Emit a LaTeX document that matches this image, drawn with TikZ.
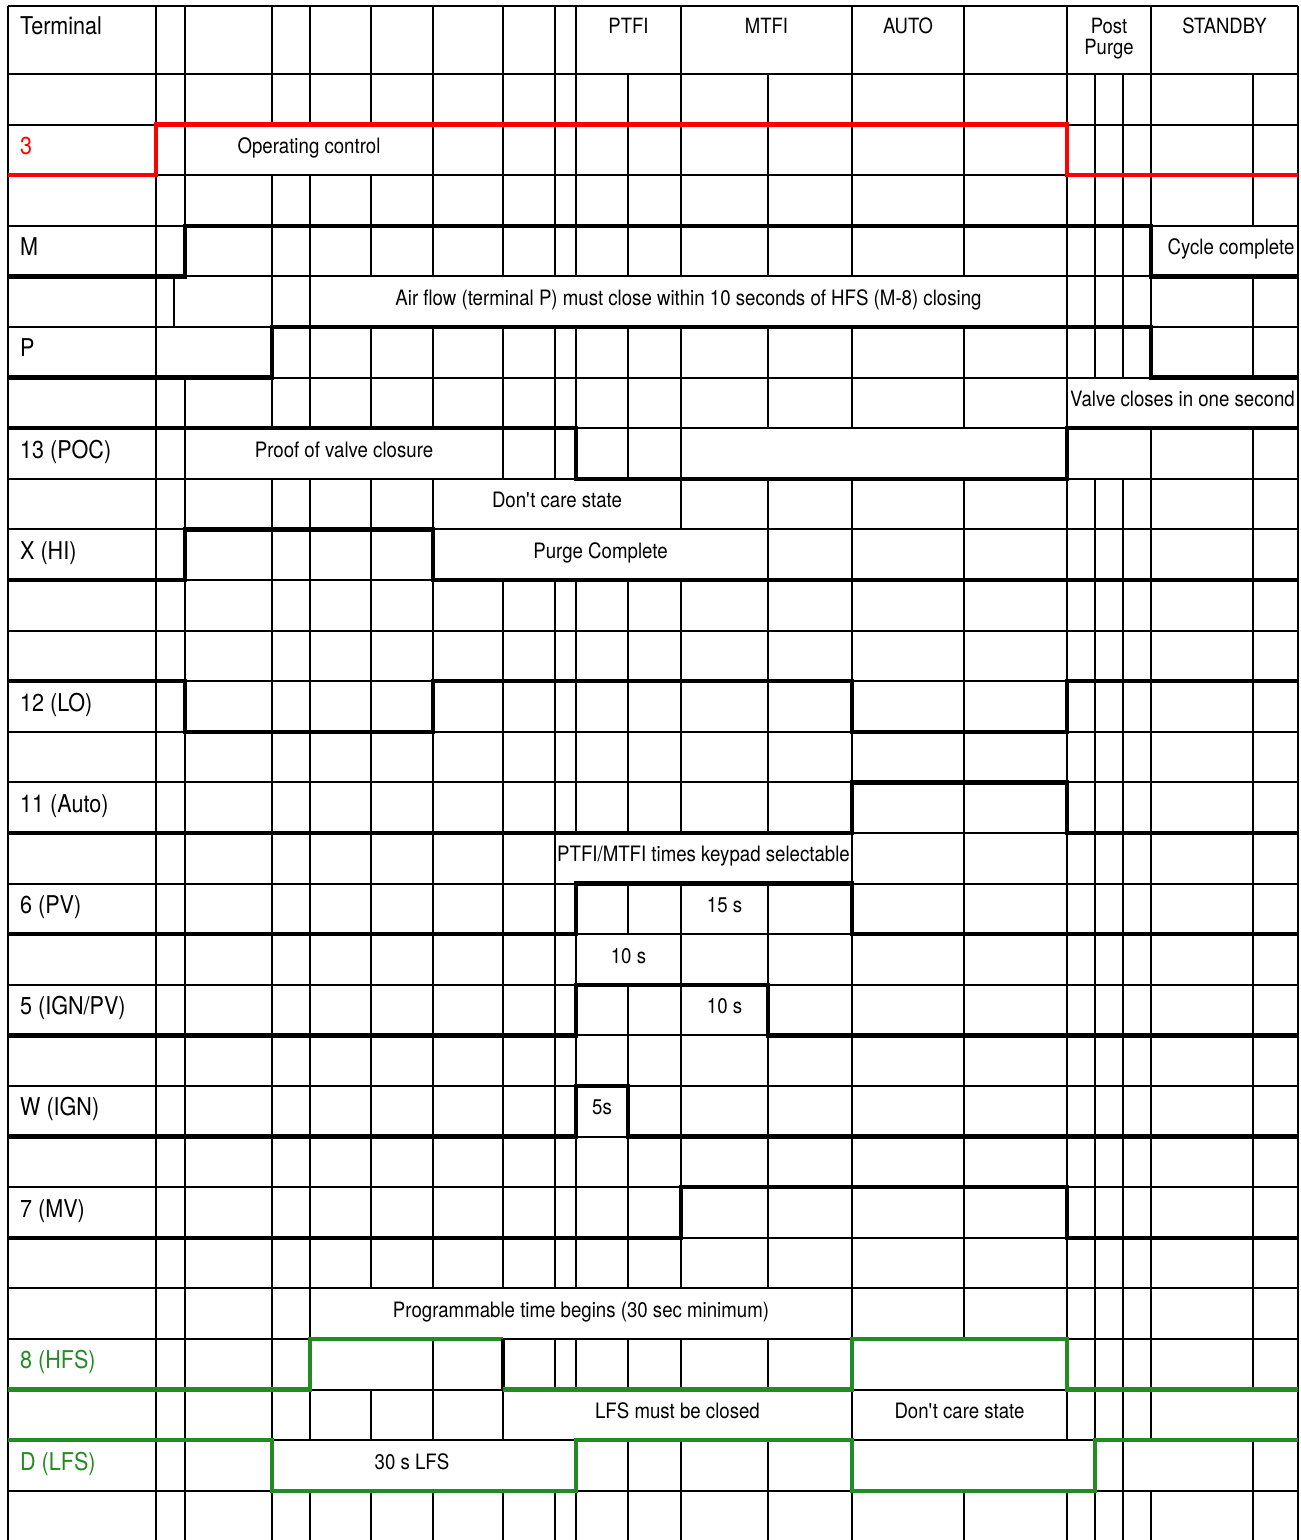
\documentclass[tikz,border=0pt]{standalone}
\usepackage{fontspec}
\setmainfont[FakeStretch=0.88]{TeX Gyre Heros}
\usepackage{xcolor}
\definecolor{lfsgreen}{RGB}{34,139,34}

% vertical grid lines of one row (row k runs from 74+(k-1)*50.6 to 74+k*50.6)
\newcommand{\rowlines}[2]{%
  \foreach \x in {#2} {\draw[gridline] (\x,{74+(#1-1)*50.6}) -- (\x,{74+#1*50.6});}}

\begin{document}
\begin{tikzpicture}[x=1pt, y=-1pt,
    gridline/.style={line width=2pt, black},
    sig/.style={line width=4.5pt, black},
    txt/.style={anchor=base, inner sep=0pt, font=\fontsize{21.2}{21.2}\selectfont},
    headlbl/.style={txt, font=\fontsize{21}{21}\selectfont},
    termlbl/.style={txt, anchor=base west, font=\fontsize{24.5}{24.5}\selectfont}]
    \useasboundingbox (0,0) rectangle (1301,1540);

    % Outer frame and horizontal lines
    \draw[gridline] (8,6) -- (1298,6);
    \draw[gridline] (8,6) -- (8,1540);
    \draw[gridline] (1298,6) -- (1298,1540);
    \foreach \k in {0,...,28}
        \draw[gridline] (8,{74+\k*50.6}) -- (1298,{74+\k*50.6});

    % Header columns
    \foreach \x in {156,185,272,310,371,433,503,555,576,681,852,964,1067,1151}
        \draw[gridline] (\x,6) -- (\x,74);

    % Rows with every column line
    \foreach \k in {1,3,11,12,13,14,15,17,19,20,21,22,23,24,29}
        \foreach \x in {156,185,272,310,371,433,503,555,576,628,681,768,852,964,1067,1095,1123,1151,1253}
            \draw[gridline] (\x,{74+(\k-1)*50.6}) -- (\x,{74+\k*50.6});

    % Rows with merged cells
    \rowlines{2}{156,185,433,503,555,576,628,681,768,852,964,1067,1095,1123,1151,1253}
    \rowlines{4}{156,185,272,310,371,433,503,555,576,628,681,768,852,964,1067,1095,1123,1151}
    \rowlines{5}{156,174,272,310,1067,1095,1123,1151,1253}
    \rowlines{6}{156,272,310,371,433,503,555,576,628,681,768,852,964,1067,1095,1123,1151,1253}
    \rowlines{7}{156,185,272,310,371,433,503,555,576,628,681,768,852,964,1067}
    \rowlines{8}{156,185,503,555,576,628,681,1067,1151,1253}
    \rowlines{9}{156,185,272,310,371,433,681,768,852,964,1067,1095,1123,1151,1253}
    \rowlines{10}{156,185,272,310,371,433,768,852,964,1067,1095,1123,1151,1253}
    \rowlines{16}{156,185,272,310,371,433,503,555,852,964,1067,1095,1123,1151,1253}
    \rowlines{18}{156,185,272,310,371,433,503,555,576,681,768,852,964,1067,1095,1123,1151,1253}
    \rowlines{25}{156,185,272,310,852,964,1067,1095,1123,1151,1253}
    \rowlines{26}{156,185,272,310,433,503,555,576,628,681,768,852,1067,1095,1123,1151,1253}
    \rowlines{27}{156,185,272,310,371,433,503,852,1067,1095,1123,1151}
    \rowlines{28}{156,185,272,576,628,681,768,852,1095,1123,1253}

    % Header labels
    \node[termlbl] (term) at (20,34) {Terminal};
    \node[headlbl] (ptfi) at (628.5,33) {PTFI};
    \node[headlbl] (mtfi) at (766.5,33) {MTFI};
    \node[headlbl] (auto) at (908,33) {AUTO};
    \node[headlbl, align=center] (post) at (1109,54) {Post\\Purge};
    \node[headlbl] (stby) at (1224.5,33) {STANDBY};

    % Terminal names
    \node[termlbl, red] (t3) at (20,154.5) {3};
    \node[termlbl] (tM) at (20,255.7) {M};
    \node[termlbl] (tP) at (20,356.9) {P};
    \node[termlbl] (t13) at (20,458.1) {13 (POC)};
    \node[termlbl] (tX) at (20,559.3) {X (HI)};
    \node[termlbl] (t12) at (20,711.1) {12 (LO)};
    \node[termlbl] (t11) at (20,812.3) {11 (Auto)};
    \node[termlbl] (t6) at (20,913.5) {6 (PV)};
    \node[termlbl] (t5) at (20,1014.7) {5 (IGN/PV)};
    \node[termlbl] (tW) at (20,1115.9) {W (IGN)};
    \node[termlbl] (t7) at (20,1217.1) {7 (MV)};
    \node[termlbl, lfsgreen] (t8) at (20,1368.9) {8 (HFS)};
    \node[termlbl, lfsgreen] (tD) at (20,1470.1) {D (LFS)};

    % Notes inside the chart
    \node[txt] (opctl) at (309,153.5) {Operating control};
    \node[txt] (cycle) at (1231,254.7) {Cycle complete};
    \node[txt] (airflow) at (688.5,305.3) {Air flow (terminal P) must close within 10 seconds of HFS (M-8) closing};
    \node[txt] (valve) at (1182.5,406.5) {Valve closes in one second};
    \node[txt] (proof) at (344,457.1) {Proof of valve closure};
    \node[txt] (dcare) at (557,507.7) {Don\textquotesingle t care state};
    \node[txt] (purge) at (600.5,558.3) {Purge Complete};
    \node[txt] (keypad) at (703.5,861.9) {PTFI/MTFI times keypad selectable};
    \node[txt] (pvtime) at (724.5,912.5) {15 s};
    \node[txt] (ptfitime) at (628.5,963.1) {10 s};
    \node[txt] (igntime) at (724.5,1013.7) {10 s};
    \node[txt] (sparktime) at (602,1114.9) {5s};
    \node[txt] (progtime) at (581,1317.3) {Programmable time begins (30 sec minimum)};
    \node[txt] (lfsclosed) at (677.5,1418.5) {LFS must be closed};
    \node[txt] (dcarelfs) at (959.5,1418.5) {Don\textquotesingle t care state};
    \node[txt] (lfstime) at (412,1469.1) {30 s LFS};

    % Signal traces
    \draw[sig, red] (8,175.2) -- (156,175.2) -- (156,124.6) -- (1067,124.6) -- (1067,175.2) -- (1298,175.2);
    \draw[sig] (8,276.4) -- (185,276.4) -- (185,225.8) -- (1151,225.8) -- (1151,276.4) -- (1298,276.4);
    \draw[sig] (8,377.6) -- (272,377.6) -- (272,327) -- (1151,327) -- (1151,377.6) -- (1298,377.6);
    \draw[sig] (8,428.2) -- (576,428.2) -- (576,478.8) -- (1067,478.8) -- (1067,428.2) -- (1298,428.2);
    \draw[sig] (8,580) -- (185,580) -- (185,529.4) -- (433,529.4) -- (433,580) -- (1298,580);
    \draw[sig] (8,681.2) -- (185,681.2) -- (185,731.8) -- (433,731.8) -- (433,681.2) -- (852,681.2)
               -- (852,731.8) -- (1067,731.8) -- (1067,681.2) -- (1298,681.2);
    \draw[sig] (8,833) -- (852,833) -- (852,782.4) -- (1067,782.4) -- (1067,833) -- (1298,833);
    \draw[sig] (8,934.2) -- (576,934.2) -- (576,883.6) -- (852,883.6) -- (852,934.2) -- (1298,934.2);
    \draw[sig] (8,1035.4) -- (576,1035.4) -- (576,984.8) -- (768,984.8) -- (768,1035.4) -- (1298,1035.4);
    \draw[sig] (8,1136.6) -- (576,1136.6) -- (576,1086) -- (628,1086) -- (628,1136.6) -- (1298,1136.6);
    \draw[sig] (8,1237.8) -- (681,1237.8) -- (681,1187.2) -- (1067,1187.2) -- (1067,1237.8) -- (1298,1237.8);
    \draw[sig, lfsgreen] (8,1389.6) -- (310,1389.6) -- (310,1339) -- (503,1339);
    \draw[sig] (503,1339) -- (503,1389.6);
    \draw[sig, lfsgreen] (503,1389.6) -- (852,1389.6) -- (852,1339) -- (1067,1339) -- (1067,1389.6) -- (1298,1389.6);
    \draw[sig, lfsgreen] (8,1440.2) -- (272,1440.2) -- (272,1490.8) -- (576,1490.8) -- (576,1440.2) -- (852,1440.2)
               -- (852,1490.8) -- (1095,1490.8) -- (1095,1440.2) -- (1298,1440.2);
\end{tikzpicture}
\end{document}
